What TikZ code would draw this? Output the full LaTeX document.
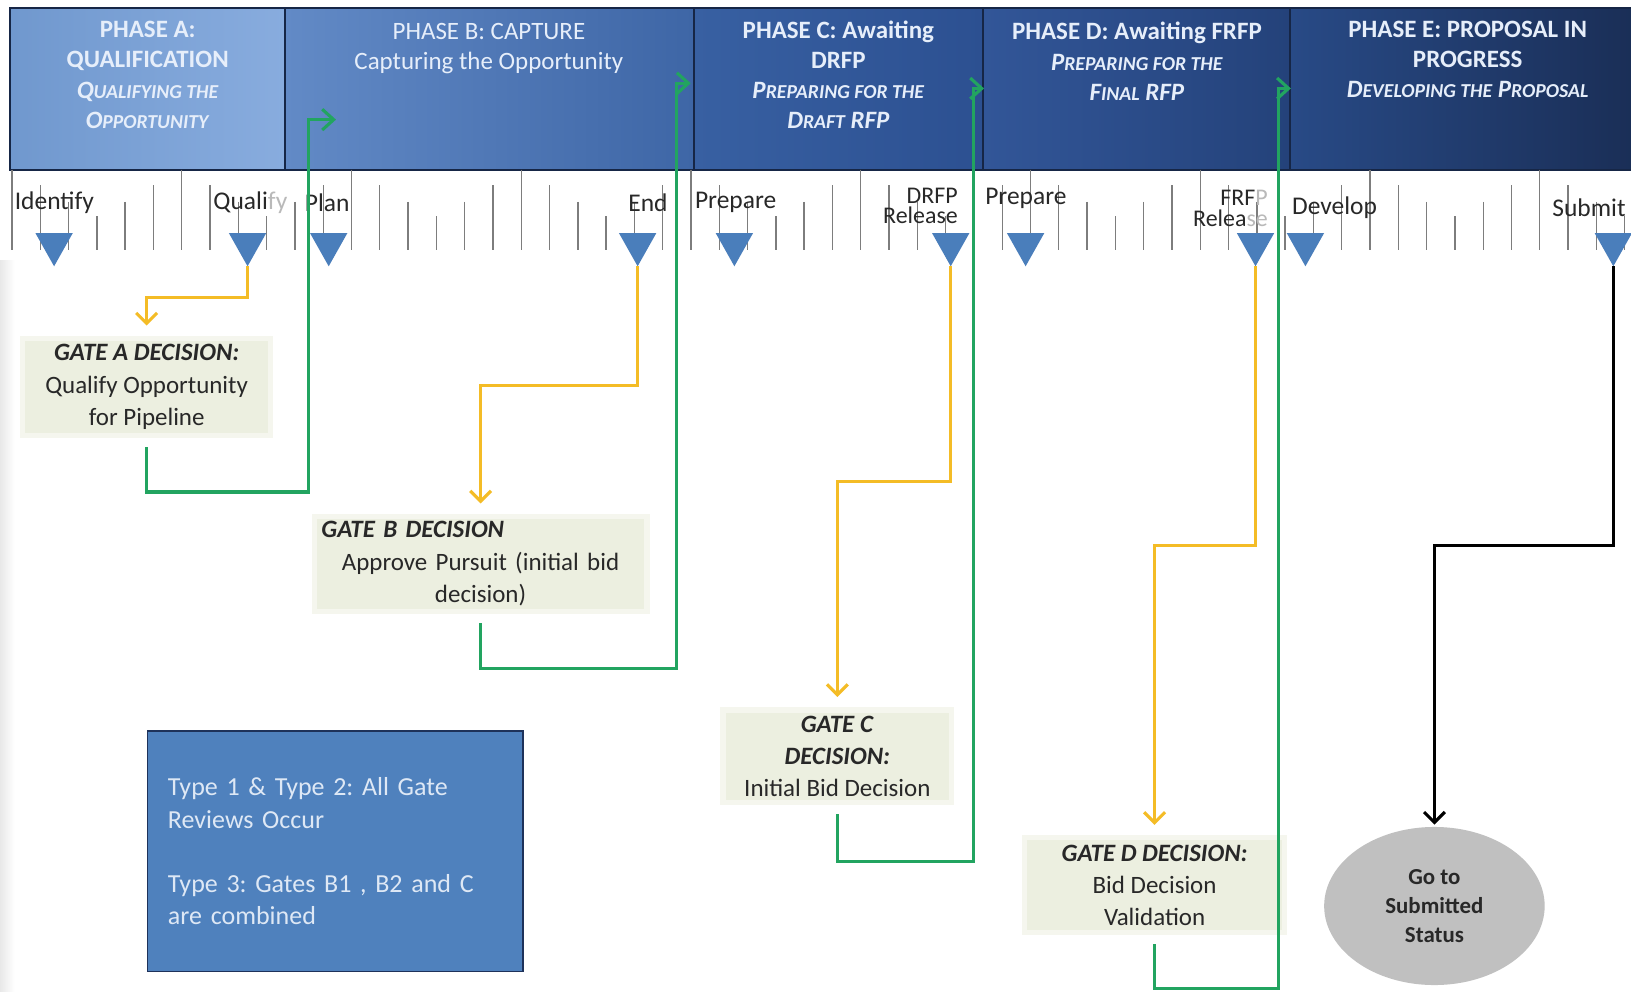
\documentclass[tikz,border=0pt]{standalone}
\usepackage{fontspec}
\setmainfont{Carlito}
\usetikzlibrary{arrows.meta,shapes.geometric}
\frenchspacing

\definecolor{hdrtext}{RGB}{230,238,250}
\definecolor{trifill}{RGB}{74,126,187}
\definecolor{yel}{RGB}{244,188,38}
\definecolor{grn}{RGB}{34,164,96}
\definecolor{gatefill}{RGB}{236,239,224}
\definecolor{gateglow}{RGB}{245,246,238}
\definecolor{legfill}{RGB}{79,129,189}
\definecolor{legline}{RGB}{30,50,90}
\definecolor{legtext}{RGB}{222,232,245}
\definecolor{navy}{RGB}{22,38,70}
\definecolor{tickc}{RGB}{125,125,125}
\definecolor{lbl}{RGB}{40,40,40}
\definecolor{ellfill}{RGB}{192,192,192}

\newcommand{\smc}[2]{#1{\fontsize{19}{20}\selectfont #2}}

\tikzset{
  hdr/.style={text=hdrtext, align=center, font=\fontsize{24}{29}\selectfont, inner sep=0pt},
  hdrb/.style={hdr, font=\bfseries\fontsize{24}{29}\selectfont},
  tl/.style={text=lbl, font=\fontsize{24.5}{20}\selectfont, inner sep=0pt},
  tl2/.style={text=lbl, font=\fontsize{23}{20}\selectfont, inner sep=0pt, align=right},
  tickline/.style={draw=tickc, line width=1.3pt},
  gate/.style={fill=gatefill, draw=gateglow, line width=5pt, inner sep=3pt, align=center,
               font=\fontsize{24}{31}\selectfont, text=lbl},
  yline/.style={draw=yel, line width=3pt, -{Straight Barb[length=10pt,width=20pt]}, shorten >=10pt},
  gline/.style={draw=grn, line width=3pt, -{Straight Barb[length=11pt,width=20pt]}, shorten <=9pt},
  kline/.style={draw=black, line width=3pt, -{Straight Barb[length=10pt,width=20pt]}, shorten >=2pt},
}

\begin{document}
\begin{tikzpicture}[x=1pt,y=-1pt]
\useasboundingbox (0,0) rectangle (1568,953);
\fill[white] (0,0) rectangle (1568,953);
\shade[left color=black!9, right color=white] (0,250) rectangle (14,953);

% header band
\shade[left color={rgb,255:red,112;green,152;blue,206}, right color={rgb,255:red,136;green,172;blue,222}] (10,8) rectangle (274,163);
\shade[left color={rgb,255:red,98;green,138;blue,198}, right color={rgb,255:red,62;green,102;blue,166}] (274,8) rectangle (667,163);
\shade[left color={rgb,255:red,56;green,96;blue,162}, right color={rgb,255:red,44;green,80;blue,145}] (667,8) rectangle (945,163);
\shade[left color={rgb,255:red,50;green,86;blue,152}, right color={rgb,255:red,36;green,66;blue,122}] (945,8) rectangle (1240,163);
\shade[left color={rgb,255:red,40;green,74;blue,134}, right color={rgb,255:red,26;green,46;blue,86}] (1240,8) rectangle (1575,163);
\draw[navy, line width=2pt] (10,8) rectangle (1580,163);
\foreach \xd in {274,667,945,1240} \draw[navy, line width=1.6pt] (\xd,8) -- (\xd,163);

\node[hdrb] (hA) at (142,72)
  {PHASE A:\\QUALIFICATION\\\textit{\smc{Q}{UALIFYING THE}}\\\textit{\smc{O}{PPORTUNITY}}};
\node[hdr] (hB) at (470,47) {PHASE B: CAPTURE\\Capturing the Opportunity};
\node[hdrb] (hC) at (806,72)
  {PHASE C: Awaiting\\DRFP\\\textit{\smc{P}{REPARING FOR THE}}\\\textit{\smc{D}{RAFT} RFP}};
\node[hdrb] (hD) at (1093,59)
  {PHASE D: Awaiting FRFP\\\textit{\smc{P}{REPARING FOR THE}}\\\textit{\smc{F}{INAL} RFP}};
\node[hdrb] (hE) at (1411,57)
  {PHASE E: PROPOSAL IN\\PROGRESS\\\textit{\smc{D}{EVELOPING THE} \smc{P}{ROPOSAL}}};

% ticks
\foreach \k in {0,...,57}{
  \pgfmathtruncatemacro\m{mod(\k,6)}
  \pgfmathsetmacro\tp{{163,178,194,208,194,178}[\m]}
  \draw[tickline] (11.5+27.2*\k,\tp) -- (11.5+27.2*\k,240);
}

% timeline labels
\node[tl, anchor=west] (lId) at (14,195) {Identify};
\node[tl, anchor=west] (lQu) at (205,195) {Quali{\color{gray!55}fy}};
\node[tl, anchor=west] (lPl) at (293,195) {Plan};
\node[tl, anchor=east] (lEn) at (642,195) {End};
\node[tl, anchor=west] (lP1) at (668,195) {Prepare};
\node[tl2, anchor=east] (lDR) at (921,198) {DRFP\\Release};
\node[tl, anchor=west] (lP2) at (947,191) {Prepare};
\node[tl2, anchor=east] (lFR) at (1219,200) {FRF{\color{gray!55}P}\\Relea{\color{gray!55}se}};
\node[tl, anchor=west] (lDe) at (1242,200) {Develop};
\node[tl, anchor=east] (lSu) at (1563,200) {Submit};

% milestone triangles
\foreach \xx/\nm in {52/tId,238/tQu,316/tPl,613/tEn,706/tP1,914/tDR,986/tP2,1207/tFR,1255/tDe,1551/tSu}{
  \fill[trifill] (\xx-18,224) -- (\xx+18,224) -- (\xx,256) -- cycle;
  \coordinate (\nm) at (\xx,256);
}

% gate boxes
\node[gate, minimum width=238pt, minimum height=93pt] (gA) at (141,372)
  {\textbf{\textit{GATE A DECISION:}}\\Qualify Opportunity\\for Pipeline};
\node[gate, minimum width=320pt, minimum height=91pt, text width=306pt] (gB) at (462,542)
  {\textbf{\textit{GATE B DECISION}}\hfill\null\\Approve Pursuit (initial bid\\decision)};
\node[gate, minimum width=220pt, minimum height=89pt] (gC) at (805,727)
  {\textbf{\textit{GATE C}}\\\textbf{\textit{DECISION:}}\\Initial Bid Decision};
\node[gate, minimum width=250pt, minimum height=91pt] (gD) at (1110,851)
  {\textbf{\textit{GATE D DECISION:}}\\Bid Decision\\Validation};
\node[ellipse, fill=ellfill, minimum width=212pt, minimum height=152pt, inner sep=0pt,
      align=center, text=lbl, font=\bfseries\fontsize{22}{28}\selectfont] (go) at (1379,871)
  {Go to\\Submitted\\Status};

% legend
\node[fill=legfill, draw=legline, line width=1.5pt, minimum width=361pt, minimum height=231pt,
      text width=322pt, align=left, text=legtext, font=\fontsize{25}{31}\selectfont] (leg) at (322.5,818.5)
  {Type 1 \& Type 2: All Gate\\Reviews Occur\\[31pt]Type 3: Gates B1 , B2 and C\\are combined};

% green targets in header
\coordinate (pB) at (323,115);
\coordinate (pC) at (664,80);
\coordinate (pD) at (946,85);
\coordinate (pE) at (1241,85);

% yellow connectors
\draw[yline] (tQu) -- ++(0,30) -| (gA.north);
\draw[yline] (tEn) -- ++(0,115) -| (gB.north);
\draw[yline] (tDR) -- ++(0,207) -| (gC.north);
\draw[yline] (tFR) -- ++(0,268) -| (gD.north);
\draw[kline] (tSu) -- ++(0,268) -| (go.north);

% green connectors
\draw[gline] (gA.south) |- (297,473) |- (pB);
\draw[gline] (gB.south) |- (650,643) |- (pC);
\draw[gline] (gC.south) |- (936,828) |- (pD);
\draw[gline] (gD.south) |- (1229,950) |- (pE);
\end{tikzpicture}
\end{document}
